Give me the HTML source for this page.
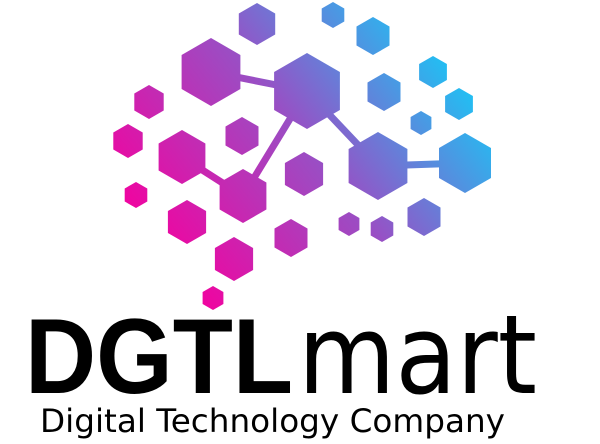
<!DOCTYPE html>
<html><head><meta charset="utf-8"><style>
html,body{margin:0;padding:0;background:#fff;width:600px;height:444px;overflow:hidden}
svg{display:block}
</style></head><body>
<svg id="logo" width="600" height="444" viewBox="0 0 600 444" xmlns="http://www.w3.org/2000/svg">
<defs>
<linearGradient id="g" gradientUnits="userSpaceOnUse" x1="170" y1="280" x2="470" y2="50">
<stop offset="0" stop-color="#f5009e"/>
<stop offset="0.5" stop-color="#9a4ec4"/>
<stop offset="1" stop-color="#0fd0fa"/>
</linearGradient>
</defs>
<g id="links" stroke="url(#g)" stroke-width="7"></g>
<g id="hexes" fill="url(#g)"></g>
<text x="25" y="393" font-family="Liberation Sans, sans-serif" font-weight="bold" font-size="107" textLength="268" lengthAdjust="spacingAndGlyphs" fill="#000">DGTL</text>
<text x="298" y="393" font-family="DejaVu Sans, sans-serif" font-size="110" textLength="239" lengthAdjust="spacingAndGlyphs" fill="#000">mart</text>
<text x="40" y="432" font-family="DejaVu Sans, sans-serif" font-size="32" textLength="465" lengthAdjust="spacingAndGlyphs" fill="#000">Digital Technology Company</text>
</svg>
<script>
const hexX=[257,333,373,211,307,149,433,384,459,421,128,242,182,378,465,243,304,136,187,424,349,382,291,234,213];
const hexY=[24,15,36,72,91,102,72,92,104,123,141,136,157,166,163,196,174,195,222,217,224,229,238,259,298];
const hexR=[21,13,19,34,38,17,16,19,16,12,17,19,27,34,30,27,22,13,22,19,12,13,19,22,12];
const linkFrom=[3,4,4,13,12];
const linkTo=[4,15,13,14,15];
const NS='http://www.w3.org/2000/svg';
const hg=document.getElementById('hexes'), lg=document.getElementById('links');
for(let i=0;i<linkFrom.length;i++){
  const l=document.createElementNS(NS,'line');
  l.setAttribute('x1',hexX[linkFrom[i]]);l.setAttribute('y1',hexY[linkFrom[i]]);
  l.setAttribute('x2',hexX[linkTo[i]]);l.setAttribute('y2',hexY[linkTo[i]]);
  
  
  lg.appendChild(l);
}
for(let i=0;i<hexX.length;i++){
  const p=document.createElementNS(NS,'polygon');
  let pts=[];
  for(let k=0;k<6;k++){const a=Math.PI/180*(60*k-90);pts.push((hexX[i]+hexR[i]*Math.cos(a)).toFixed(1)+','+(hexY[i]+hexR[i]*Math.sin(a)).toFixed(1));}
  p.setAttribute('points',pts.join(' '));
  
  
  hg.appendChild(p);
}
</script>
</body></html>
